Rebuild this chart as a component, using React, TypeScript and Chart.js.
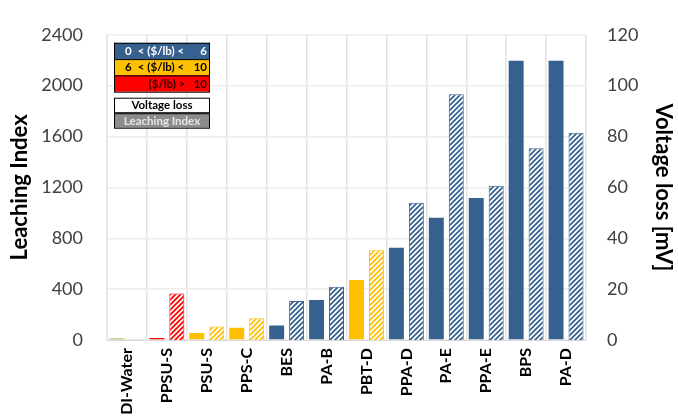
import React, { useEffect, useRef } from "react";
import { Chart, registerables } from "chart.js";

Chart.register(...registerables);

const categories = ["DI-Water", "PPSU-S", "PSU-S", "PPS-C", "BES", "PA-B", "PBT-D", "PPA-D", "PA-E", "PPA-E", "BPS", "PA-D"];
const leachingIndex = [12, 15, 55, 97, 115, 315, 472, 725, 962, 1117, 2195, 2195];
const voltageLoss: (number | null)[] = [null, 18.3, 5.3, 8.6, 15.3, 20.9, 35.3, 54, 96.6, 60.6, 75.4, 81.5];
const priceGroup = ["water", "high", "mid", "mid", "low", "low", "mid", "low", "low", "low", "low", "low"];
const leftTicks = [0, 400, 800, 1200, 1600, 2000, 2400];
const rightTicks = [0, 20, 40, 60, 80, 100, 120];

const groupColor: Record<string, string> = {
  water: "#93AB45",
  low: "#36618F",
  mid: "#FFC000",
  high: "#FF0000",
};

function hatch(color: string): CanvasPattern | string {
  const size = 5;
  const c = document.createElement("canvas");
  c.width = size;
  c.height = size;
  const ctx = c.getContext("2d");
  if (!ctx) return color;
  ctx.fillStyle = "#ffffff";
  ctx.fillRect(0, 0, size, size);
  ctx.strokeStyle = color;
  ctx.lineWidth = 1.8;
  ctx.beginPath();
  ctx.moveTo(-1, size + 1);
  ctx.lineTo(size + 1, -1);
  ctx.moveTo(-2, 2);
  ctx.lineTo(2, -2);
  ctx.moveTo(size - 2, size + 2);
  ctx.lineTo(size + 2, size - 2);
  ctx.stroke();
  return ctx.createPattern(c, "repeat") || color;
}

const legendPlugin = {
  id: "priceLegend",
  afterDraw(chart: any) {
    const ctx = chart.ctx as CanvasRenderingContext2D;
    const { left, top } = chart.chartArea;
    const x0 = left + 7;
    const w = 96;
    const rowH = 16.3;
    let y = top + 8;
    ctx.save();
    ctx.font = "bold 11.5px Lato";
    ctx.textBaseline = "middle";
    const rows = [
      { bg: groupColor.low, fg: "#ffffff", a: "0", m: "< ($/lb) <", b: "6" },
      { bg: groupColor.mid, fg: "#000000", a: "6", m: "< ($/lb) <", b: "10" },
      { bg: groupColor.high, fg: "#300000", a: "", m: "($/lb) >", b: "10" },
    ];
    rows.forEach((r) => {
      ctx.fillStyle = r.bg;
      ctx.fillRect(x0, y, w, rowH);
      ctx.strokeStyle = "#000";
      ctx.lineWidth = 1;
      ctx.strokeRect(x0 + 0.5, y + 0.5, w - 1, rowH);
      ctx.fillStyle = r.fg;
      const cy = y + rowH / 2 + 0.5;
      ctx.textAlign = "left";
      if (r.a) ctx.fillText(r.a, x0 + 11, cy);
      ctx.textAlign = "center";
      ctx.fillText(r.m, x0 + (r.a ? 47 : 53), cy);
      ctx.textAlign = "right";
      ctx.fillText(r.b, x0 + w - 3, cy);
      y += rowH;
    });
    y += 6;
    const boxes = [
      { bg: "#ffffff", fg: "#000000", t: "Voltage loss" },
      { bg: "#8C8C8C", fg: "#E6E6E6", t: "Leaching Index" },
    ];
    boxes.forEach((b) => {
      ctx.fillStyle = b.bg;
      ctx.fillRect(x0, y, w, 14.5);
      ctx.strokeStyle = "#000";
      ctx.strokeRect(x0 + 0.5, y + 0.5, w - 1, 14.5);
      ctx.fillStyle = b.fg;
      ctx.textAlign = "center";
      ctx.fillText(b.t, x0 + w / 2, y + 8);
      y += 15.5;
    });
    ctx.restore();
  },
};

export default function App() {
  const ref = useRef<HTMLCanvasElement | null>(null);

  useEffect(() => {
    if (!ref.current) return;
    const solidColors = priceGroup.map((g) => groupColor[g]);
    const hatchFills = priceGroup.map((g) => hatch(groupColor[g]));
    const chart = new Chart(ref.current, {
      type: "bar",
      data: {
        labels: categories,
        datasets: [
          {
            label: "Leaching Index",
            data: leachingIndex,
            yAxisID: "y",
            backgroundColor: solidColors,
            borderColor: solidColors,
            borderWidth: 0,
            categoryPercentage: 1,
            barPercentage: 0.75,
          },
          {
            label: "Voltage loss",
            data: voltageLoss,
            yAxisID: "y1",
            backgroundColor: hatchFills as any,
            borderColor: solidColors,
            borderWidth: 1,
            categoryPercentage: 1,
            barPercentage: 0.75,
          },
        ],
      },
      options: {
        responsive: false,
        animation: false,
        layout: { padding: { top: 20, left: 0, right: 0, bottom: 0 } },
        plugins: {
          legend: { display: false },
          tooltip: { enabled: false },
        },
        scales: {
          x: {
            grid: { offset: true, color: "#E3E3E3", drawTicks: false, lineWidth: 1.5 },
            border: { color: "#D9D9D9" },
            ticks: {
              autoSkip: false,
              minRotation: 90,
              maxRotation: 90,
              padding: 8,
              color: "#000000",
              font: { family: "Lato", weight: "bold", size: 16 },
            },
            afterFit: (s: any) => {
              s.height = 76;
            },
          },
          y: {
            position: "left",
            min: 0,
            max: 2400,
            afterBuildTicks: (s: any) => {
              s.ticks = leftTicks.map((v) => ({ value: v }));
            },
            grid: { color: "#ECECEC", drawTicks: false, lineWidth: 1.5 },
            border: { color: "#E3E3E3", width: 1.5 },
            ticks: {
              padding: 24,
              color: "#404040",
              font: { family: "Lato", size: 18 },
              callback: (v: any) => String(v),
            },
            title: {
              display: true,
              text: "Leaching Index",
              color: "#000000",
              font: { family: "Lato", weight: "bold", size: 22 },
              padding: { top: 7, bottom: 0 },
            },
            afterFit: (s: any) => {
              s.width = 107;
            },
          },
          y1: {
            position: "right",
            min: 0,
            max: 120,
            afterBuildTicks: (s: any) => {
              s.ticks = rightTicks.map((v) => ({ value: v }));
            },
            grid: { display: false, drawTicks: false },
            border: { display: false },
            ticks: {
              padding: 21,
              color: "#404040",
              font: { family: "Lato", size: 18 },
              callback: (v: any) => String(v),
            },
            title: {
              display: true,
              text: "Voltage loss [mV]",
              color: "#000000",
              font: { family: "Lato", weight: "bold", size: 22 },
              padding: { top: 2, bottom: 0 },
            },
            afterFit: (s: any) => {
              s.width = 92;
            },
          },
        },
      },
      plugins: [legendPlugin],
    });
    return () => chart.destroy();
  }, []);

  return (
    <div style={{ position: "absolute", left: 0, top: 0, width: 678, height: 416, background: "#fff" }}>
      <canvas ref={ref} width={678} height={416} />
    </div>
  );
}
